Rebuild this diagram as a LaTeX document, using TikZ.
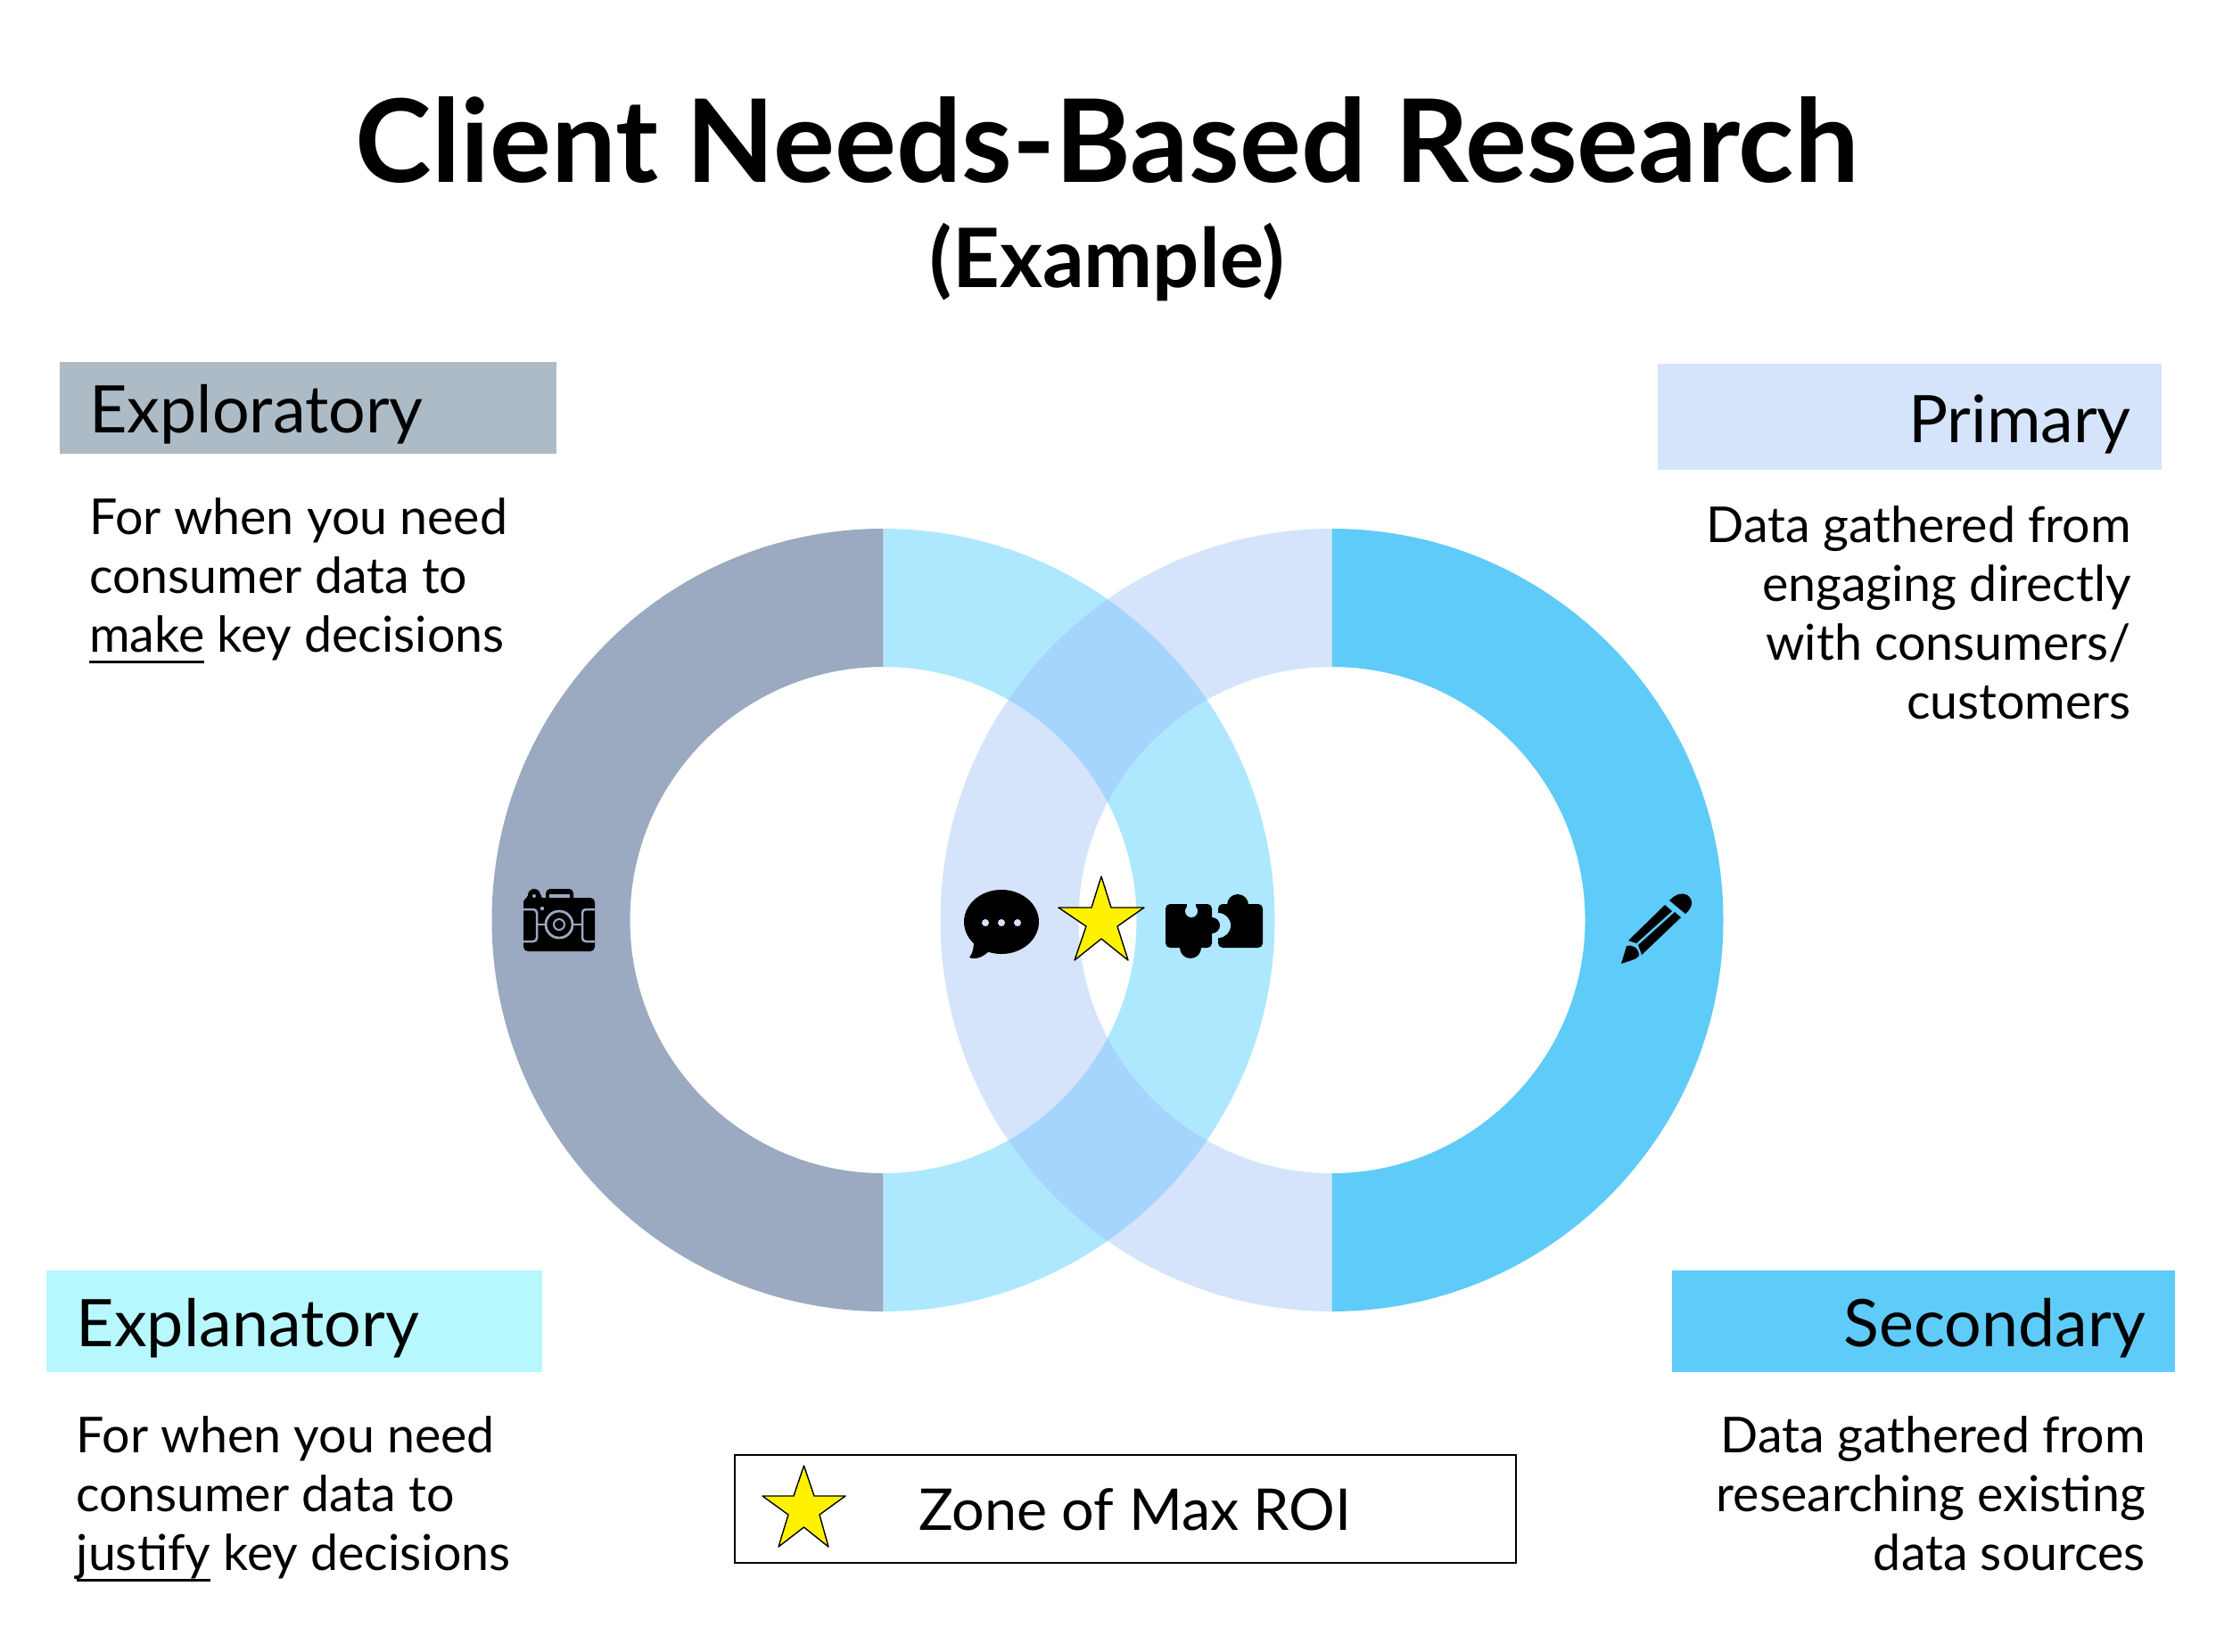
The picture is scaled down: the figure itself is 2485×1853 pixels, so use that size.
\documentclass[tikz,border=0pt]{standalone}
\usepackage{fontspec}
\setmainfont{Lato}
\definecolor{slateL}{HTML}{9BA9C1}
\definecolor{aquaL}{HTML}{AEE8FF}
\definecolor{paleR}{HTML}{D6E4FB}
\definecolor{skyR}{HTML}{5FCBF8}
\definecolor{overlapC}{HTML}{A5D5FC}
\definecolor{hdrA}{HTML}{ADBBC6}
\definecolor{hdrB}{HTML}{B7F8FF}
\newsavebox\ulbox
\newcommand\ulword[1]{\sbox\ulbox{#1}\rlap{\rule[-12.5pt]{\wd\ulbox}{2.6pt}}\usebox\ulbox}
\newcommand\bodyfont{\fontsize{55.5}{66}\selectfont}
\begin{document}
\begin{tikzpicture}[x=1pt,y=-1pt,
  hdr/.style={inner sep=0pt,font=\fontsize{73.6}{80}\selectfont},
  hdrbox/.style={fill=#1,draw=none},
  body/.style={inner sep=0pt,font=\bodyfont},
  starshape/.style={fill=yellow,draw=black,line width=1.4pt,line join=round},
  icon/.style={fill=black,draw=none}]
\useasboundingbox (0,0) rectangle (2485,1853);
\fill[white] (0,0) rectangle (2485,1853);
\coordinate (cl) at (990.5,1032);
\coordinate (cr) at (1493.5,1032);
% ring halves
\fill[slateL] (cl) ++(0,-439) arc[start angle=90,end angle=270,radius=439pt] -- ++(0,-155) arc[start angle=270,end angle=90,radius=284pt] -- cycle;
\fill[aquaL] (cl) ++(0,-439) arc[start angle=90,end angle=-90,radius=439pt] -- ++(0,-155) arc[start angle=-90,end angle=90,radius=284pt] -- cycle;
\fill[paleR] (cr) ++(0,-439) arc[start angle=90,end angle=270,radius=439pt] -- ++(0,-155) arc[start angle=270,end angle=90,radius=284pt] -- cycle;
\fill[skyR] (cr) ++(0,-439) arc[start angle=90,end angle=-90,radius=439pt] -- ++(0,-155) arc[start angle=-90,end angle=90,radius=284pt] -- cycle;
\begin{scope}[even odd rule]
\clip (cl) circle[radius=439pt] (cl) circle[radius=284pt];
\clip (cr) circle[radius=439pt] (cr) circle[radius=284pt];
\fill[overlapC] (900,500) rectangle (1600,1600);
\end{scope}
% title
\node[anchor=base,inner sep=0pt,font=\bfseries\fontsize{129.2}{130}\selectfont] (title) at (1241.5,204) {Client Needs-Based Research};
\node[anchor=base,inner sep=0pt,font=\bfseries\fontsize{92}{95}\selectfont] (sub) at (1241.5,322) {(Example)};
% header boxes
\fill[hdrbox=hdrA] (67,406) rectangle (624,509);
\fill[hdrbox=paleR] (1859,408) rectangle (2424,527);
\fill[hdrbox=hdrB] (52,1425) rectangle (608,1539);
\fill[hdrbox=skyR] (1875,1425) rectangle (2439,1539);
\node[hdr,anchor=base west] (explo) at (100,485) {Exploratory};
\node[hdr,anchor=base east] (prim) at (2390,496) {Primary};
\node[hdr,anchor=base west] (expla) at (85.5,1510) {Explanatory};
\node[hdr,anchor=base east] (seco) at (2406,1510) {Secondary};
% body text
\node[body,anchor=base west] (bexplo) at (100,599.5) {\begin{tabular}[t]{@{}l@{}}For when you need\\consumer data to\\\ulword{make} key decisions\end{tabular}};
\node[body,anchor=base east] (bprim) at (2390,608) {\begin{tabular}[t]{@{}r@{}}Data gathered from\\engaging directly\\with consumers/\\customers\end{tabular}};
\node[body,anchor=base west] (bexpla) at (85.5,1629) {\begin{tabular}[t]{@{}l@{}}For when you need\\consumer data to\\\ulword{justify} key decisions\end{tabular}};
\node[body,anchor=base east] (bseco) at (2406,1629) {\begin{tabular}[t]{@{}r@{}}Data gathered from\\researching existing\\data sources\end{tabular}};
% legend
\draw[black,line width=2.8pt,fill=white] (824,1632) rectangle (1700,1753);
\node[anchor=base west,inner sep=0pt,font=\fontsize{64.6}{70}\selectfont] (zone) at (1030,1716) {Zone of Max ROI};
\draw[starshape] (901.5,1644) -- (913,1678) -- (948,1678) -- (919,1699) -- (929,1735) -- (901.5,1713) -- (873,1735) -- (884,1699) -- (855,1678) -- (890,1678) -- cycle;
% centre star
\draw[starshape] (1235,983) -- (1246,1018) -- (1283,1018) -- (1253,1039) -- (1265,1077) -- (1235,1053) -- (1205,1077) -- (1218,1039) -- (1187,1018) -- (1224,1018) -- cycle;
% speech bubble
\fill[icon] (1123,1034) ellipse[x radius=42pt,y radius=36pt];
\fill[icon] (1092,1055) .. controls (1092,1063) and (1091,1069) .. (1087,1074) .. controls (1095,1077) and (1103,1073) .. (1110,1066) -- cycle;
\foreach \dx in {1105,1123,1141} \fill[paleR] (\dx,1035) circle[radius=4pt];
% puzzle
\fill[icon,rounded corners=5pt] (1366,1014) rectangle (1416,1063);
\fill[icon] (1388,1015) circle[radius=12pt];
\fill[aquaL] (1366,1038) circle[radius=14pt];
\fill[aquaL] (1359,1020) rectangle (1366,1070);
\fill[icon,rounded corners=5pt] (1307,1014) rectangle (1359,1063);
\fill[icon] (1335,1063) circle[radius=12pt];
\fill[icon] (1359,1038) circle[radius=9pt];
\fill[aquaL] (1336,1022) circle[radius=7pt];
\fill[aquaL] (1331,1012) rectangle (1341,1022);
% camera
\fill[icon,rounded corners=5pt] (587,1007) rectangle (667,1067);
\fill[icon,rounded corners=5pt] (612,997) rectangle (643,1012);
\fill[icon] (599,1004) circle[radius=7pt];
\fill[icon] (587,1012) -- (593,1003) -- (606,1003) -- (610,1012) -- cycle;
\fill[slateL] (616,1003) rectangle (639,1007);
\fill[slateL] (599,1005) circle[radius=2pt];
\fill[slateL] (608,1019) circle[radius=2.2pt];
\draw[slateL,line width=2.5pt,rounded corners=4pt] (587,1020) -- (602,1020) -- (602,1056) -- (587,1056);
\draw[slateL,line width=2.5pt,rounded corners=4pt] (667,1020) -- (653,1020) -- (653,1056) -- (667,1056);
\draw[slateL,line width=2.5pt] (602,1037) -- (612,1037) (642,1037) -- (653,1037);
\draw[slateL,line width=2.8pt] (627,1037) circle[radius=15pt];
\draw[slateL,line width=2pt] (627,1037) circle[radius=6pt];
% pencil
\fill[icon] (1826,1055) -- (1867,1015) -- (1875,1022) -- (1835,1058) -- cycle;
\fill[icon] (1837,1060) -- (1878,1023) -- (1885,1029) -- (1841,1071) -- cycle;
\fill[icon] (1872,1010) .. controls (1880,1002) and (1887,1001) .. (1892,1004) .. controls (1899,1009) and (1899,1017) .. (1890,1025) -- cycle;
\fill[icon] (1824,1061) .. controls (1830,1059) and (1838,1063) .. (1838,1072) .. controls (1836,1076) and (1826,1078) .. (1818,1081) -- cycle;
\end{tikzpicture}
\end{document}
